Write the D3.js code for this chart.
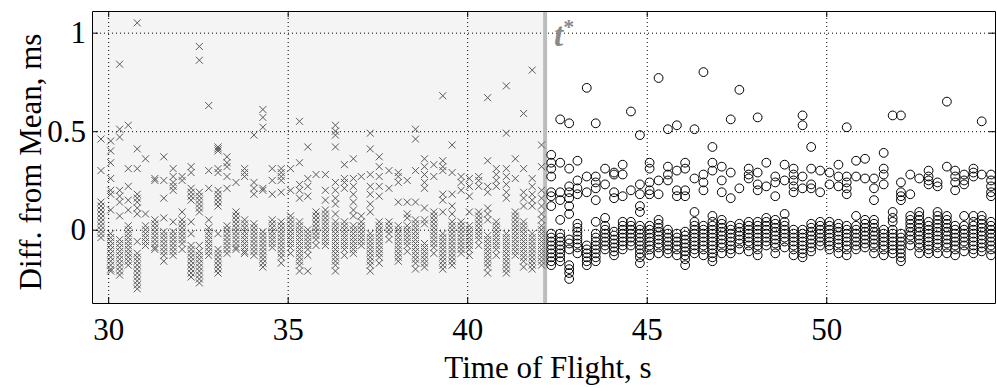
<!DOCTYPE html>
<html>
<head>
<meta charset="utf-8">
<script src="https://cdn.jsdelivr.net/npm/d3@7"></script>
<style>
  body { margin: 0; background: #fff; }
  svg { display: block; }
</style>
</head>
<body>
<script>
// values, in hundredths of a ms, one list per time column
const crossTimes = [29.80, 30.07, 30.32, 30.56, 30.81, 31.04, 31.30, 31.55, 31.81, 32.06,
    32.31, 32.54, 32.80, 33.06, 33.31, 33.56, 33.80, 34.06, 34.31, 34.57,
    34.82, 35.08, 35.33, 35.56, 35.79, 36.05, 36.33, 36.58, 36.83, 37.05,
    37.30, 37.55, 37.82, 38.08, 38.33, 38.56, 38.81, 39.07, 39.32, 39.58,
    39.83, 40.06, 40.32, 40.57, 40.81, 41.09, 41.34, 41.57, 41.81, 42.07];
const crossValues = [
    [46, 30, 14, 12, 10, 8, 6, 4, 2, 0, -2, -4],
    [45, 40, 34, 26, 20, 18, 10, -2, -4, -6, -8, -10, -12, -14, -16, -18, -20, -21],
    [84, 51, 47, 20, 17, 14, 7, -5, -7, -9, -11, -13, -15, -17, -19, -21, -23],
    [53, 31, 22, 15, 10, 2, 0, -2, -4, -6, -8, -10, -12, -14, -16, -18],
    [105, 41, 31, 18, 16, 14, 11, 8, -6, -12, -14, -16, -18, -20, -22, -24, -26, -28, -30],
    [36, 8, 2, 0, -2, -4, -6, -8],
    [26, 25, 5, 3, 1, -1, -3, -5, -7, -9, -10],
    [37, 25, 16, 6, -1, -3, -5, -7, -9, -11, -13, -16],
    [31, 27, 24, 22, 20, 4, -1, -3, -5, -7, -9, -11, -13],
    [27, 25, 9, 5, 3, 1, -1, -3, -5, -7, -10],
    [32, 29, 21, 19, 17, 15, 4, -2, -8, -10, -12, -14, -16, -18, -20, -22, -24],
    [93, 86, 19, 17, 15, 13, 11, 9, -8, -11, -13, -15, -17, -19, -21, -23, -25, -27],
    [63, 30, 21, 5, 1, -1, -3, -5, -7, -9, -11, -13],
    [42, 41, 40, 31, 29, 20, 18, 16, 14, 12, -2, -10, -12, -14, -16, -18, -20, -22],
    [37, 34, 32, 27, 21, 2, 0, -2, -4, -6, -8, -10, -12],
    [24, 9, 7, 5, 3, 1, -1, -3, -5, -7, -9, -10],
    [31, 29, 27, 5, 3, 1, -1, -3, -5, -7, -9, -11, -12],
    [48, 24, 21, 18, 3, 1, -1, -3, -5, -7, -9, -11, -13],
    [61, 57, 52, 21, 20, -1, -3, -5, -7, -9, -11, -13, -15, -17, -19],
    [31, 25, 18, 5, 3, 1, -1, -3, -5, -7, -9],
    [31, 29, 27, 25, 19, 4, 2, 0, -2, -4, -6, -8, -10, -12, -14, -17],
    [31, 20, 7, 5, 3, 1, -1, -3, -5, -7, -9, -12],
    [55, 34, 23, 20, 16, 4, 2, 0, -2, -4, -6, -8, -10, -12, -14, -16, -18, -21],
    [42, 26, 22, 17, 0, -2, -4, -6, -8, -10, -13, -21],
    [28, 9, 7, 5, 3, 1, -1, -3, -5, -8],
    [28, 20, 15, 10, 8, 6, 4, 2, 0, -2, -4, -6, -8],
    [53, 50, 48, 42, 24, 20, 16, 13, 8, 4, 2, 0, -2, -4, -6, -8, -10, -12, -14, -16, -18, -21],
    [33, 26, 24, 21, 4, 2, 0, -2, -4, -6, -8, -10, -13],
    [36, 26, 22, 18, 14, 10, 7, 2, 0, -2, -4, -6, -8, -10, -12],
    [27, 7, 4, 2, 0, -2, -4, -6, -8],
    [49, 41, 28, 22, 18, 13, 9, -2, -4, -6, -8, -10, -12, -14, -16, -18, -21],
    [37, 32, 27, 22, 17, 4, 2, 0, -2, -4, -6, -8, -10, -12, -14, -17],
    [30, 21, 4, 2, 0, -2, -5],
    [29, 27, 24, 14, 2, 0, -2, -4, -6, -8, -10, -12, -14, -16],
    [25, 14, 8, 6, 2, 0, -2, -4, -6, -8, -11],
    [51, 46, 30, 14, 5, 3, 1, -1, -3, -5, -7, -9, -11, -13, -15, -17, -20],
    [36, 32, 28, 24, 21, 11, 5, 3, -7, -9, -11, -13, -15, -17, -19],
    [33, 27, 9, 7, 5, 3, 1, -1, -3, -5, -7, -9, -12],
    [68, 35, 32, 30, 18, 15, 9, -2, -4, -6, -8, -10, -12, -14, -16, -18, -20],
    [43, 29, 18, 12, 8, 4, 2, 0, -2, -4, -6, -8, -10, -12, -14, -16, -18],
    [27, 24, 20, 4, 2, 0, -2, -4, -6, -8, -10, -12],
    [26, 22, 17, 9, 2, 0, -2, -4, -6, -8, -10, -13],
    [27, 25, 22, 9, 7, 5, 3, 1, -1, -3, -5, -8],
    [67, 35, 22, 19, 11, 8, 5, -3, -5, -7, -9, -11, -13, -15, -17, -19, -22],
    [31, 28, 25, 22, 4, 2, 0, -2, -4, -6, -8, -10, -13],
    [73, 49, 31, 27, 23, 19, 16, -2, -4, -6, -8, -10, -12, -14, -16, -18, -20, -22],
    [36, 26, 9, 7, 5, 3, 1, -1, -3, -5, -7, -9, -11, -13],
    [59, 31, 19, 16, 12, 4, 2, 0, -2, -4, -6, -8, -10, -12, -14, -16, -19],
    [81, 26, 22, 18, 15, 12, -2, -4, -6, -8, -10, -12, -14, -16, -18, -20],
    [43, 32, 20, 16, 12, 8, 5, 2, 0, -2, -4, -6, -8, -10, -12, -14, -16, -18]
];

const circleTimes = [42.34, 42.59, 42.84, 43.07, 43.33, 43.58, 43.84, 44.09, 44.33, 44.56,
    44.81, 45.08, 45.33, 45.59, 45.84, 46.07, 46.33, 46.58, 46.83, 47.09,
    47.34, 47.58, 47.84, 48.09, 48.33, 48.58, 48.84, 49.09, 49.34, 49.58,
    49.83, 50.09, 50.34, 50.57, 50.83, 51.08, 51.33, 51.60, 51.85, 52.08,
    52.34, 52.59, 52.85, 53.10, 53.36, 53.59, 53.84, 54.10, 54.33, 54.59];
const circleValues = [
    [38, 34, 31, 27, 19, 17, 12, -2, -4, -6, -8, -10, -12, -14, -16, -18],
    [56, 34, 19, 15, 5, -2, -4, -6, -8, -10, -12, -14, -16],
    [54, 31, 22, 19, 16, 12, 8, -5, -7, -10, -18, -20, -22, -25],
    [35, 25, 21, 18, 3, 1, -1, -3, -5, -7, -9, -12],
    [72, 27, 19, -8, -10, -12, -14, -16, -18],
    [54, 27, 24, 21, 15, 4, -2, -4, -6, -8, -10, -12, -14, -16],
    [31, 23, 6, 2, 0, -2, -4, -6, -8, -10],
    [29, 28, 19, 16, -1, -3, -5, -7, -9, -11, -13],
    [33, 28, 17, 4, 2, 0, -2, -4, -6, -8, -10],
    [60, 20, 4, 2, 0, -2, -4, -6, -8],
    [48, 23, 18, 12, 9, 2, 0, -2, -4, -6, -8, -10, -12, -14, -17],
    [34, 31, 24, 20, 18, 2, 0, -2, -4, -6, -8, -10, -13],
    [77, 25, 18, 5, 3, 1, -1, -3, -5, -7, -9, -12],
    [51, 32, 28, 25, 0, -2, -4, -6, -8, -10, -12],
    [53, 30, 20, 17, -2, -4, -6, -8, -10, -13],
    [34, 31, 20, 17, -1, -3, -5, -7, -9, -11, -13, -15, -18],
    [51, 26, 9, 4, 2, 0, -2, -4, -6, -8, -10, -12],
    [80, 28, 24, 20, 2, 0, -2, -4, -6, -8, -10, -13],
    [42, 34, 30, 7, 4, 2, 0, -2, -4, -6, -8, -10, -12, -14, -16],
    [32, 25, 19, 5, 3, 1, -1, -3, -5, -7, -9, -12],
    [56, 29, 16, 2, 0, -2, -4, -6, -8, -10, -12],
    [71, 21, 3, 1, -1, -3, -5, -7, -10],
    [31, 28, 26, 4, 2, 0, -2, -4, -6, -8, -11],
    [57, 29, 23, 20, 4, 2, 0, -2, -4, -6, -8, -10, -13],
    [34, 22, 6, 4, 2, 0, -2, -4, -6, -8],
    [27, 24, 17, 5, 3, 1, -1, -3, -5, -7, -9, -12],
    [33, 25, 8, 4, 2, 0, -2, -4, -6, -9],
    [31, 28, 25, 22, 19, 0, -2, -4, -6, -8, -10, -13],
    [58, 53, 27, 21, 0, -2, -4, -6, -8, -10, -12, -14],
    [42, 31, 23, 21, 3, 1, -1, -3, -5, -7, -9, -11],
    [30, 19, 4, 2, 0, -2, -4, -6, -8],
    [29, 23, 4, 2, 0, -2, -4, -6, -8, -10],
    [33, 27, 22, 3, 1, -1, -3, -5, -7, -9, -12],
    [52, 27, 24, 21, 18, 2, 0, -2, -4, -6, -8, -10, -13],
    [35, 27, 7, 2, 0, -2, -4, -6, -8, -10],
    [36, 26, 5, 3, 1, -1, -3, -5, -7, -9],
    [26, 21, 15, 5, 3, 1, -1, -3, -5, -7, -9, -12],
    [39, 31, 28, 23, 0, -2, -4, -6, -8, -10, -13],
    [58, 9, 6, 4, 0, -2, -4, -6, -8, -10, -12],
    [58, 24, 19, 17, 15, -2, -4, -6, -8, -10, -12, -14, -16],
    [28, 18, 7, 5, 3, 1, -1, -3, -5, -8],
    [26, 9, 7, 5, 3, 1, -1, -3, -5, -7, -9, -12],
    [30, 27, 25, 23, 4, 2, 0, -2, -4, -6, -8, -10, -12],
    [24, 22, 9, 7, 5, 3, 1, -1, -3, -5, -7, -9, -12],
    [65, 32, 7, 5, 3, 1, -1, -3, -5, -7, -9, -12],
    [30, 27, 24, 20, 2, 0, -2, -4, -6, -8, -10, -13],
    [28, 25, 23, 7, 2, 0, -2, -4, -6, -8, -11],
    [31, 29, 27, 7, 4, 2, 0, -2, -4, -6, -8, -10, -12],
    [55, 28, 7, 5, 3, 1, -1, -3, -5, -7, -9, -11],
    [28, 25, 22, 19, 17, 4, 2, 0, -2, -4, -6, -8, -10, -13]
];

const tStar = 42.17;
const xTicks = [30, 35, 40, 45, 50];
const yTicks = [0, 0.5, 1];

const W = 997, H = 388;
const mLeft = 92, mRight = 995, mTop = 11, mBottom = 303;
const font = "'Liberation Serif', 'Times New Roman', serif";
const fontSize = "31px";

const x = d3.scaleLinear().domain([29.55, 54.7]).range([mLeft, mRight]);
const y = d3.scaleLinear().domain([-0.372, 1.11]).range([mBottom, mTop]);

// flatten columns into points
function toPoints(times, values) {
    const pts = [];
    times.forEach((t, i) => values[i].forEach(v => pts.push({t: t, v: v / 100})));
    return pts;
}
const crosses = toPoints(crossTimes, crossValues);
const circles = toPoints(circleTimes, circleValues);

const svg = d3.select("body").append("svg")
    .attr("width", W)
    .attr("height", H);

// shaded region before t*
svg.append("rect")
    .attr("x", mLeft)
    .attr("y", mTop)
    .attr("width", x(tStar) - mLeft)
    .attr("height", mBottom - mTop)
    .attr("fill", "#f4f4f4");

// dotted grid
svg.append("g")
    .attr("transform", "translate(0," + mBottom + ")")
    .call(d3.axisBottom(x).tickValues(xTicks).tickSize(-(mBottom - mTop)).tickFormat(""))
    .call(g => g.select(".domain").remove())
    .selectAll("line")
    .attr("stroke", "#000")
    .attr("stroke-dasharray", "1,3");

svg.append("g")
    .attr("transform", "translate(" + mLeft + ",0)")
    .call(d3.axisLeft(y).tickValues(yTicks).tickSize(-(mRight - mLeft)).tickFormat(""))
    .call(g => g.select(".domain").remove())
    .selectAll("line")
    .attr("stroke", "#000")
    .attr("stroke-dasharray", "1,3");

// t* marker line
svg.append("line")
    .attr("x1", x(tStar)).attr("x2", x(tStar))
    .attr("y1", mTop).attr("y2", mBottom)
    .attr("stroke", "#bdbdbd")
    .attr("stroke-width", 4);

// crosses before t*
const s = 3.5;
svg.append("g").selectAll("path")
    .data(crosses)
    .enter().append("path")
    .attr("d", d => {
        const cx = x(d.t), cy = y(d.v);
        return "M" + (cx - s) + "," + (cy - s) + "L" + (cx + s) + "," + (cy + s) +
            "M" + (cx - s) + "," + (cy + s) + "L" + (cx + s) + "," + (cy - s);
    })
    .attr("stroke", "#5a5a5a")
    .attr("stroke-width", 1)
    .attr("fill", "none");

// circles after t*
svg.append("g").selectAll("circle")
    .data(circles)
    .enter().append("circle")
    .attr("cx", d => x(d.t))
    .attr("cy", d => y(d.v))
    .attr("r", 4.4)
    .attr("fill", "none")
    .attr("stroke", "#000")
    .attr("stroke-width", 1);

// t* label
svg.append("text")
    .attr("x", x(tStar) + 9)
    .attr("y", 46)
    .attr("font-family", font)
    .attr("font-style", "italic")
    .attr("font-weight", "bold")
    .attr("font-size", "33px")
    .attr("fill", "#8a8a8a")
    .text("t")
    .append("tspan")
    .attr("dy", -12)
    .attr("font-size", "22px")
    .attr("font-style", "normal")
    .text("*");

// axes with inward ticks
const tick = 6;
const axB = svg.append("g")
    .attr("transform", "translate(0," + mBottom + ")")
    .call(d3.axisBottom(x).tickValues(xTicks).tickSizeInner(-tick).tickSizeOuter(0).tickPadding(15));
const axT = svg.append("g")
    .attr("transform", "translate(0," + mTop + ")")
    .call(d3.axisTop(x).tickValues(xTicks).tickSizeInner(-tick).tickSizeOuter(0).tickFormat(""));
const axL = svg.append("g")
    .attr("transform", "translate(" + mLeft + ",0)")
    .call(d3.axisLeft(y).tickValues(yTicks).tickSizeInner(-tick).tickSizeOuter(0).tickPadding(6)
        .tickFormat(d => d === 0.5 ? "0.5" : d3.format("d")(d)));
const axR = svg.append("g")
    .attr("transform", "translate(" + mRight + ",0)")
    .call(d3.axisRight(y).tickValues(yTicks).tickSizeInner(-tick).tickSizeOuter(0).tickFormat(""));

[axB, axT, axL, axR].forEach(g => {
    g.select(".domain").attr("stroke", "#000");
    g.selectAll("text")
        .attr("font-family", font)
        .attr("font-size", fontSize)
        .attr("fill", "#000");
});
axB.selectAll("text").attr("dy", "0.71em");

// axis titles
svg.append("text")
    .text("Time of Flight, s")
    .attr("x", 548)
    .attr("y", 378)
    .attr("text-anchor", "middle")
    .attr("font-family", font)
    .attr("font-size", fontSize);

svg.append("text")
    .text("Diff. from Mean, ms")
    .attr("transform", "translate(41," + 162 + ") rotate(-90)")
    .attr("text-anchor", "middle")
    .attr("font-family", font)
    .attr("font-size", fontSize);
</script>
</body>
</html>
